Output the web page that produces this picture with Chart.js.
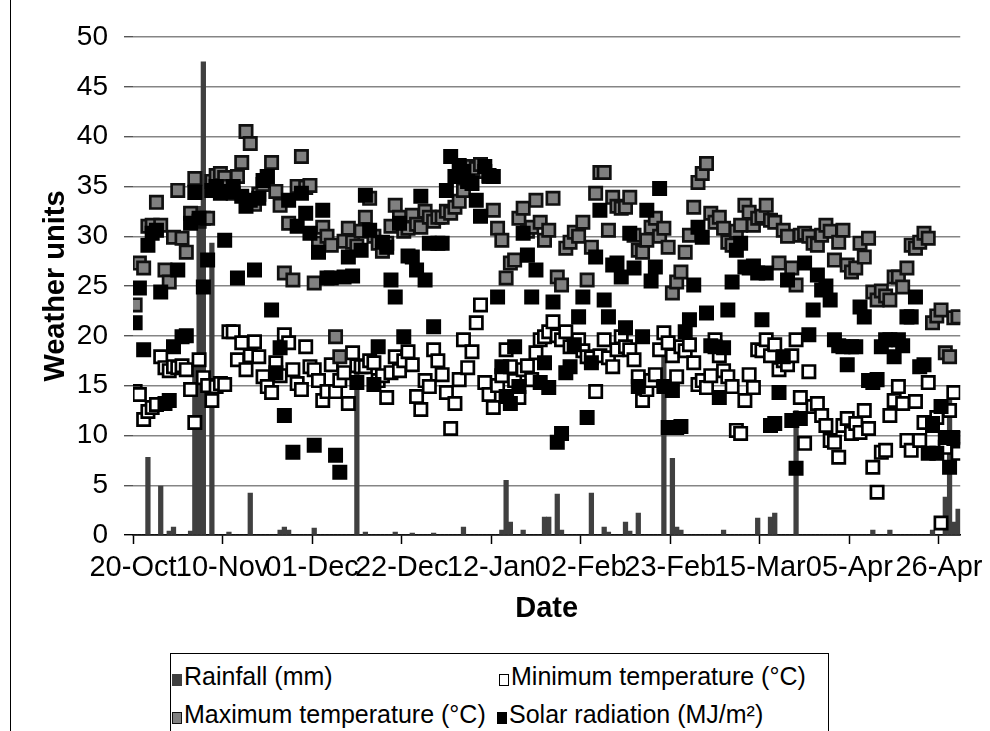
<!DOCTYPE html>
<html>
<head>
<meta charset="utf-8">
<title>Weather units</title>
<script src="https://cdn.jsdelivr.net/npm/chart.js@4.4.1/dist/chart.umd.min.js"></script>
<style>
    html, body { margin: 0; padding: 0; background: #fff; }
    #page { position: relative; width: 990px; height: 731px; overflow: hidden; font-family: "Liberation Sans", Arial, sans-serif; }
    #frameLine { position: absolute; left: 10px; top: 0; height: 731px; border-left: 1.5px solid #000; }
    #chartContainer { position: absolute; left: 0; top: 0; }
    #legendBox { position: absolute; left: 170px; top: 653px; width: 657px; height: 120px; border: 1px solid #000; }
    .legendItem { position: absolute; height: 28px; line-height: 28px; font-size: 25px; color: #000; white-space: nowrap; }
    .legendItem .swatch { display: inline-block; box-sizing: border-box; width: 10px; height: 12px; margin-right: 2px; vertical-align: -1px; }
</style>
</head>
<body>
<div id="page">
    <div id="frameLine"></div>
    <canvas id="chartContainer" width="990" height="650"></canvas>
    <div id="legendBox"></div>
    <div id="legendItems"></div>
</div>

<script>
// daily values from 20-Oct, one entry per day
const rainfall = [
    0, 0, 0, 7.8, 0, 0, 4.9, 0, 0.4, 0.8,
    0, 0, 0, 0.4, 17.8, 33, 47.5, 0, 29.3, 0,
    0, 0, 0.3, 0, 0, 0, 0, 4.2, 0, 0,
    0, 0, 0, 0, 0.5, 0.8, 0.5, 0, 0, 0,
    0, 0, 0.7, 0, 0, 0, 0, 0, 0, 0,
    0, 0, 16.5, 0, 0.3, 0, 0, 0, 0, 0,
    0, 0.3, 0, 0, 0, 0.2, 0, 0, 0, 0,
    0.2, 0, 0, 0, 0, 0, 0, 0.8, 0, 0,
    0, 0, 0, 0, 0, 0, 0.5, 5.5, 1.3, 0,
    0, 0.5, 0, 0, 0, 0, 1.8, 1.8, 0, 4.1,
    0.5, 0, 0, 0, 0, 0, 0, 4.2, 0, 0,
    0.8, 0.3, 0, 0, 0, 1.3, 0.4, 0, 2.2, 0,
    0, 0, 0, 0, 18.5, 0, 7.7, 0.8, 0.5, 0,
    0, 0, 0, 0, 0, 0, 0, 0, 0.5, 0,
    0, 0, 0, 0, 0, 0, 1.7, 0, 0, 1.8,
    2.2, 0, 0, 0, 0, 12.5, 0, 0, 0, 0,
    0, 0, 0, 0, 0, 0, 0, 0, 0, 0,
    0, 0, 0, 0.5, 0, 0, 0, 0.5, 0, 0,
    0, 0, 0, 0, 0, 0, 0, 0.5, 0, 0,
    3.8, 14.8, 1.3, 2.6
];

const minTemp = [
    14.4, 14.1, 11.6, 12.4, 12.8, 13.1, 17.9, 16.8, 16.5, 16.9,
    16.8, 17.0, 16.6, 14.6, 11.3, 17.6, 15.8, 15.0, 13.5, 14.9,
    15.2, 15.1, 20.4, 20.4, 17.6, 19.3, 16.6, 18.0, 19.4, 17.9,
    15.9, 14.9, 14.3, 17.3, 16.0, 20.1, 19.3, 16.6, 15.2, 14.6,
    18.9, 16.9, 16.6, 15.5, 13.5, 14.4, 17.1, 14.4, 15.5, 16.3,
    13.2, 18.3, 17.0, 16.9, 16.9, 17.5, 17.3, 15.5, 16.0, 13.8,
    16.3, 17.9, 16.5, 17.5, 18.4, 17.1, 13.9, 12.6, 15.5, 14.9,
    18.6, 17.5, 16.1, 14.3, 10.7, 13.2, 15.6, 19.6, 16.8, 18.4,
    21.3, 23.1, 15.3, 14.1, 12.8, 15.0, 16.0, 18.6, 16.9, 15.5,
    13.8, 16.6, 17.0, 15.6, 18.3, 19.6, 19.9, 20.4, 21.4, 20.0,
    19.6, 20.4, 18.9, 19.0, 19.6, 18.5, 17.9, 17.8, 14.4, 18.0,
    19.6, 17.8, 16.9, 18.6, 19.9, 18.9, 18.6, 17.6, 15.9, 13.5,
    14.6, 15.5, 16.1, 18.6, 20.3, 19.3, 18.0, 15.9, 18.9, 18.5,
    19.1, 17.3, 15.1, 15.5, 14.8, 16.0, 19.6, 18.0, 16.5, 15.9,
    14.9, 10.5, 10.2, 13.5, 16.1, 14.8, 18.6, 18.5, 19.6, 18.0,
    19.1, 16.6, 17.5, 17.1, 18.0, 19.6, 13.8, 9.2, 16.4, 12.9,
    13.2, 12.0, 11.0, 9.5, 9.3, 7.8, 11.0, 11.7, 10.2, 11.2,
    10.3, 12.5, 10.7, 6.8, 4.3, 8.3, 8.5, 12.0, 13.5, 14.9,
    13.2, 9.5, 8.5, 13.4, 9.5, 11.3, 15.3, 11.0, 11.8, 1.2,
    8.8, 12.5, 14.3, 8.2
];

const maxTemp = [
    23.1, 27.3, 26.8, 31.0, 31.1, 33.4, 31.1, 26.6, 25.4, 29.9,
    34.6, 29.8, 28.4, 32.3, 35.8, 31.5, 31.8, 31.8, 35.5, 36.1,
    36.3, 35.9, 35.0, 34.3, 36.0, 37.4, 40.5, 39.3, 33.2, 34.2,
    35.2, 36.0, 37.4, 34.5, 33.1, 26.3, 31.3, 25.6, 35.0, 38.0,
    34.9, 35.1, 25.3, 29.3, 30.9, 30.0, 29.1, 19.9, 17.9, 29.5,
    30.8, 29.4, 29.0, 30.5, 31.9, 33.8, 30.0, 29.3, 28.5, 29.3,
    31.0, 33.1, 31.9, 30.5, 30.8, 32.1, 31.2, 30.9, 32.5, 31.9,
    31.5, 31.9, 31.9, 32.5, 32.3, 32.9, 33.5, 34.6, 35.5, 37.0,
    36.8, 37.2, 36.5, 36.0, 32.6, 30.8, 29.6, 25.8, 27.3, 27.6,
    31.8, 32.8, 30.5, 30.9, 33.6, 31.4, 29.6, 30.6, 33.8, 25.9,
    25.1, 28.8, 29.4, 30.4, 30.0, 31.4, 25.6, 28.9, 34.3, 36.4,
    36.4, 30.6, 33.9, 33.0, 32.8, 32.9, 33.9, 30.1, 28.6, 28.4,
    29.6, 30.9, 31.8, 30.0, 30.8, 28.9, 24.3, 25.4, 26.4, 28.4,
    30.1, 32.9, 35.4, 36.3, 37.3, 32.3, 31.4, 31.9, 30.8, 29.4,
    29.1, 30.5, 31.1, 33.1, 32.4, 31.1, 31.8, 32.0, 33.1, 31.6,
    31.4, 27.3, 30.6, 30.0, 26.8, 25.1, 30.1, 30.3, 30.0, 29.3,
    29.1, 30.1, 31.1, 30.5, 27.6, 29.4, 30.6, 27.1, 26.4, 26.8,
    29.3, 27.9, 29.8, 24.4, 23.6, 24.5, 24.0, 23.6, 25.9, 25.9,
    24.9, 26.8, 29.1, 28.8, 29.4, 30.3, 29.8, 21.3, 22.0, 22.6,
    18.3, 17.9, 21.8, 21.9
];

const solarRad = [
    21.3, 24.8, 18.6, 29.1, 30.3, 30.6, 24.4, 13.2, 13.5, 18.9,
    26.6, 19.9, 20.0, 31.3, 34.4, 31.8, 24.9, 27.6, 34.6, 35.0,
    34.3, 29.6, 34.5, 35.0, 25.8, 34.0, 33.0, 33.6, 26.6, 33.8,
    35.6, 36.0, 22.6, 16.3, 18.8, 12.0, 33.6, 8.3, 31.0, 34.3,
    32.3, 30.3, 9.0, 28.4, 32.6, 25.8, 25.8, 8.0, 6.3, 25.9,
    27.9, 26.0, 15.3, 28.6, 34.1, 30.6, 15.1, 18.9, 29.4, 28.9,
    25.6, 23.9, 31.3, 19.9, 28.0, 27.9, 26.6, 34.0, 25.6, 29.3,
    20.9, 29.3, 29.3, 34.6, 38.0, 36.0, 37.1, 36.5, 35.5, 35.3,
    33.6, 32.0, 37.0, 36.1, 36.0, 23.9, 16.9, 13.9, 13.2, 18.9,
    14.9, 30.3, 28.1, 23.9, 26.6, 15.3, 17.3, 14.8, 23.4, 9.3,
    10.2, 16.3, 16.9, 19.1, 21.9, 23.9, 11.8, 17.3, 27.9, 32.6,
    23.6, 21.9, 27.1, 27.3, 25.9, 20.8, 30.3, 26.8, 14.9, 19.9,
    32.6, 25.5, 26.9, 34.8, 14.9, 10.8, 14.5, 10.8, 10.9, 20.4,
    21.6, 25.1, 30.9, 29.9, 22.3, 19.0, 18.9, 13.8, 18.8, 22.6,
    25.4, 28.6, 29.3, 26.9, 26.8, 27.0, 26.3, 21.6, 26.3, 11.0,
    11.2, 14.3, 17.9, 25.6, 11.5, 6.7, 11.7, 27.3, 20.1, 22.6,
    26.1, 24.6, 25.0, 23.6, 19.6, 19.0, 18.9, 17.1, 18.9, 18.9,
    22.9, 21.9, 15.5, 15.3, 15.6, 18.9, 19.6, 19.6, 17.9, 19.6,
    19.0, 21.9, 21.9, 23.9, 16.9, 17.1, 8.2, 11.2, 8.2, 12.9,
    9.8, 6.8, 9.7, 9.8
];

// x axis labels, one every 21 days
const tickLabels = ['20-Oct', '10-Nov', '01-Dec', '22-Dec', '12-Jan', '02-Feb', '23-Feb', '15-Mar', '05-Apr', '26-Apr'];
const tickStep = 21;
const yTicks = [0, 5, 10, 15, 20, 25, 30, 35, 40, 45, 50];

const seriesNames = ['Rainfall (mm)', 'Minimum temperature (°C)', 'Maximum temperature (°C)', 'Solar radiation (MJ/m²)'];

// each day sits in the middle of its own slot on the date axis
const days = rainfall.map((_, i) => i);
const toPoints = values => values.map((v, i) => ({ x: days[i] + 0.5, y: v }));

const FONT = '"Liberation Sans", Arial, sans-serif';

const markerStyle = (fill, border) => ({
    type: 'line',
    showLine: false,
    pointStyle: 'rect',
    pointRadius: 8.7,
    pointHoverRadius: 8.7,
    pointBorderWidth: 2.7,
    pointBackgroundColor: fill,
    pointBorderColor: border
});

const weatherChart = new Chart(document.getElementById('chartContainer').getContext('2d'), {
    type: 'bar',
    data: {
        datasets: [
            {
                label: seriesNames[0],
                type: 'bar',
                data: toPoints(rainfall),
                backgroundColor: '#404040',
                barThickness: 4.6,
                order: 4
            },
            { label: seriesNames[1], data: toPoints(minTemp), order: 3, ...markerStyle('#ffffff', '#000000') },
            { label: seriesNames[2], data: toPoints(maxTemp), order: 2, ...markerStyle('#808080', '#111111') },
            { label: seriesNames[3], data: toPoints(solarRad), order: 1, ...markerStyle('#000000', '#000000') }
        ]
    },
    options: {
        responsive: false,
        devicePixelRatio: 1,
        animation: false,
        layout: { padding: { left: 25, top: 37, right: 22, bottom: 0 } },
        plugins: {
            legend: { display: false },
            tooltip: { enabled: false }
        },
        scales: {
            x: {
                type: 'linear',
                min: 0,
                max: days.length,
                offset: false,
                afterFit: scale => { scale.height = 115; },
                afterBuildTicks: scale => {
                    scale.ticks = tickLabels.map((_, i) => ({ value: i * tickStep }));
                },
                ticks: {
                    autoSkip: false,
                    maxRotation: 0,
                    includeBounds: false,
                    padding: 7,
                    color: '#000',
                    font: { family: FONT, size: 29 },
                    callback: value => tickLabels[Math.round(value / tickStep)] || ''
                },
                grid: {
                    offset: false,
                    drawOnChartArea: false,
                    drawTicks: true,
                    tickLength: 9,
                    tickColor: '#000',
                    tickWidth: 1.5
                },
                border: { display: true, color: '#000', width: 1.5 },
                title: {
                    display: true,
                    text: 'Date',
                    color: '#000',
                    font: { family: FONT, size: 29, weight: 'bold' },
                    padding: { top: 0, bottom: 24 }
                }
            },
            y: {
                min: 0,
                max: 50,
                afterFit: scale => { scale.width = 108; },
                afterBuildTicks: scale => {
                    scale.ticks = yTicks.map(v => ({ value: v }));
                },
                ticks: {
                    padding: 16,
                    color: '#000',
                    font: { family: FONT, size: 28 }
                },
                grid: {
                    color: ctx => (ctx.tick && ctx.tick.value === 0 ? '#000' : '#858585'),
                    tickColor: ctx => (ctx.tick && ctx.tick.value === 0 ? '#000' : '#555'),
                    lineWidth: 1.4,
                    tickLength: 9
                },
                border: { display: false },
                title: {
                    display: true,
                    text: 'Weather units',
                    color: '#000',
                    font: { family: FONT, size: 29, weight: 'bold' },
                    padding: { top: 14, bottom: 0 }
                }
            }
        }
    }
});

// legend under the chart, two rows like the original sheet
const legendLayout = [
    { left: 172, top: 662, fill: '#404040', border: '#404040', width: 1 },
    { left: 499, top: 662, fill: '#ffffff', border: '#000000', width: 1.5 },
    { left: 172, top: 700, fill: '#808080', border: '#111111', width: 1.5 },
    { left: 497, top: 700, fill: '#000000', border: '#000000', width: 1 }
];

const legendItems = document.getElementById('legendItems');
legendLayout.forEach((item, i) => {
    const row = document.createElement('div');
    row.className = 'legendItem';
    row.style.left = item.left + 'px';
    row.style.top = item.top + 'px';

    const swatch = document.createElement('span');
    swatch.className = 'swatch';
    swatch.style.background = item.fill;
    swatch.style.border = item.width + 'px solid ' + item.border;
    row.appendChild(swatch);

    const text = document.createElement('span');
    text.textContent = seriesNames[i];
    row.appendChild(text);

    legendItems.appendChild(row);
});
</script>
</body>
</html>
